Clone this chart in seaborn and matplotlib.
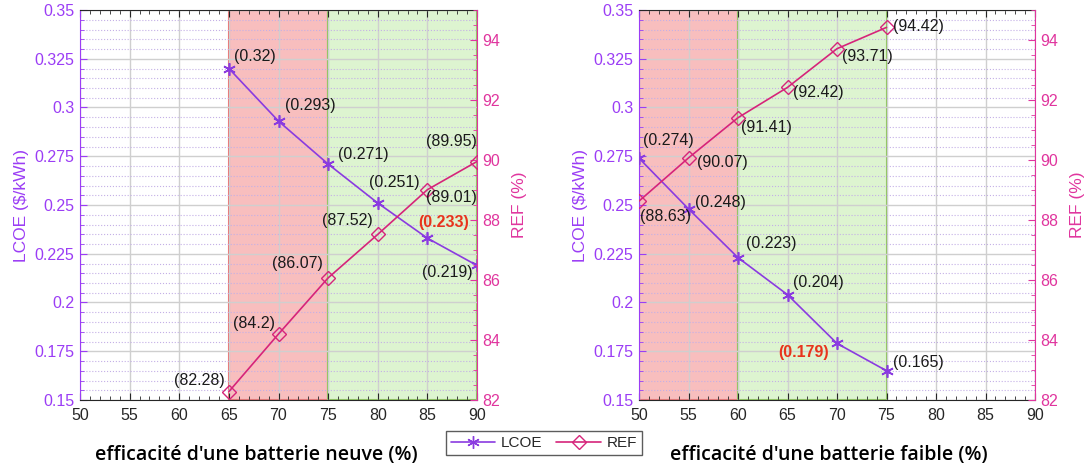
import pandas as pd
import matplotlib
matplotlib.use('Agg')
import matplotlib.pyplot as plt
import seaborn as sns
from matplotlib.ticker import MultipleLocator
from matplotlib.lines import Line2D

# Données
x_neuve = [65, 70, 75, 80, 85, 90]
lcoe_neuve = [0.32, 0.293, 0.271, 0.251, 0.233, 0.219]
ref_neuve = [82.28, 84.2, 86.07, 87.52, 89.01, 89.95]

x_faible = [50, 55, 60, 65, 70, 75]
lcoe_faible = [0.274, 0.248, 0.223, 0.204, 0.179, 0.165]
ref_faible = [88.63, 90.07, 91.41, 92.42, 93.71, 94.42]

# zones colorées (rouge, vert)
zones_neuve = [(65, 75), (75, 90)]
zones_faible = [(50, 60), (60, 75)]

# décalages des étiquettes (pixels) et alignement
off_lcoe_neuve = [(5, 12, 'left'), (6, 16, 'left'), (10, 10, 'left'), (-9, 21, 'left'), (-9, 16, 'left'), (-4, -7, 'right')]
off_ref_neuve = [(-4, 11, 'right'), (-4, 11, 'right'), (-5, 14, 'right'), (-5, 14, 'right'), (-1, -8, 'left'), (0, 20, 'right')]
off_lcoe_faible = [(4, 18, 'left'), (6, 6, 'left'), (8, 14, 'left'), (5, 12, 'left'), (-8, -9, 'right'), (6, 8, 'left')]
off_ref_faible = [(1, -15, 'left'), (8, -5, 'left'), (3, -10, 'left'), (5, -5, 'left'), (5, -8, 'left'), (6, 1, 'left')]
rouge_lcoe_neuve = 4
rouge_lcoe_faible = 4

C_LCOE = '#8A3BE0'
C_LCOE_AX = '#9B3DF5'
C_REF = '#D6247A'
C_REF_AX = '#E0359E'

sns.set_style('white')
plt.rcParams['font.family'] = ['Liberation Sans', 'DejaVu Sans']

fig = plt.figure(figsize=(10.89, 4.70), dpi=100)
W, H = 1089, 470


def panneau(rect, x, lcoe, ref, zones, off_l, off_r, rouge):
    ax = fig.add_axes(rect)
    df = pd.DataFrame({'x': x, 'LCOE': lcoe, 'REF': ref})

    ax.axvspan(zones[0][0], zones[0][1], facecolor='#F8BEBE', edgecolor='#EE6A6A', lw=1.5, zorder=0.5)
    ax.axvspan(zones[1][0], zones[1][1], facecolor='#DDF4D0', edgecolor='#86C44E', lw=1.5, zorder=0.5)

    sns.lineplot(data=df, x='x', y='LCOE', ax=ax, color=C_LCOE, marker=(6, 2, 0), markersize=9,
                 markeredgecolor=C_LCOE, markeredgewidth=1.2, lw=1.2, zorder=3)
    ax.set_xlim(50, 90)
    ax.set_ylim(0.15, 0.35)
    ax.xaxis.set_major_locator(MultipleLocator(5))
    ax.xaxis.set_minor_locator(MultipleLocator(1))
    ax.yaxis.set_major_locator(MultipleLocator(0.025))
    ax.yaxis.set_minor_locator(MultipleLocator(0.005))
    ax.set_yticklabels([f'{v:g}' for v in ax.get_yticks()])
    ax.grid(which='major', color='#CFCFCF', lw=1.0)
    ax.grid(which='minor', axis='y', color='#C4B0E6', lw=0.8, ls=':')
    ax.tick_params(axis='x', which='both', direction='in', top=True, bottom=True, labelsize=11.5,
                   colors='#262626', pad=6)
    ax.tick_params(axis='x', which='major', length=5)
    ax.tick_params(axis='x', which='minor', length=3)
    ax.tick_params(axis='y', which='both', direction='in', left=True, labelsize=11.5,
                   colors=C_LCOE_AX, pad=4)
    ax.tick_params(axis='y', which='major', length=5)
    ax.tick_params(axis='y', which='minor', length=3)
    ax.set_xlabel('')
    ax.set_ylabel('LCOE ($/kWh)', color=C_LCOE_AX, fontsize=12.5, labelpad=4)
    for s in ['top', 'bottom']:
        ax.spines[s].set_color('#262626')
    ax.spines['left'].set_color(C_LCOE_AX)
    ax.spines['right'].set_visible(False)

    ax2 = ax.twinx()
    sns.lineplot(data=df, x='x', y='REF', ax=ax2, color=C_REF, marker='D', markersize=7,
                 markerfacecolor='none', markeredgecolor=C_REF, markeredgewidth=1.0, lw=1.2, zorder=3)
    ax2.set_ylim(82, 95)
    ax2.yaxis.set_major_locator(MultipleLocator(2))
    ax2.yaxis.set_minor_locator(MultipleLocator(0.5))
    ax2.tick_params(axis='y', which='both', direction='in', right=True, labelsize=11.5,
                    colors=C_REF_AX, pad=4)
    ax2.tick_params(axis='y', which='major', length=5)
    ax2.tick_params(axis='y', which='minor', length=3)
    ax2.set_ylabel('REF (%)', color=C_REF_AX, fontsize=12.5, labelpad=8)
    ax2.spines['right'].set_color(C_REF_AX)
    for s in ['top', 'bottom', 'left']:
        ax2.spines[s].set_visible(False)

    for i, (xi, yi) in enumerate(zip(x, lcoe)):
        dx, dy, ha = off_l[i]
        red = i == rouge
        ax.annotate(f'({yi:g})', (xi, yi), xytext=(dx, dy), textcoords='offset pixels',
                    ha=ha, va='center', fontsize=11.5, zorder=5,
                    color='#E8341C' if red else '#1A1A1A', fontweight='bold' if red else 'normal')
    for i, (xi, yi) in enumerate(zip(x, ref)):
        dx, dy, ha = off_r[i]
        ax2.annotate(f'({yi:g})', (xi, yi), xytext=(dx, dy), textcoords='offset pixels',
                     ha=ha, va='center', fontsize=11.5, color='#1A1A1A', zorder=5)
    return ax, ax2


panneau([80 / W, 70 / H, 397 / W, 390 / H], x_neuve, lcoe_neuve, ref_neuve, zones_neuve,
        off_lcoe_neuve, off_ref_neuve, rouge_lcoe_neuve)
panneau([639 / W, 70 / H, 396 / W, 390 / H], x_faible, lcoe_faible, ref_faible, zones_faible,
        off_lcoe_faible, off_ref_faible, rouge_lcoe_faible)

fig.text(256 / W, 1 - 455 / H, "efficacité d'une batterie neuve (%)", ha='center', va='center',
         fontsize=14, fontweight='semibold', family=['Open Sans', 'DejaVu Sans'], color='black')
fig.text(829 / W, 1 - 455 / H, "efficacité d'une batterie faible (%)", ha='center', va='center',
         fontsize=14, fontweight='semibold', family=['Open Sans', 'DejaVu Sans'], color='black')

handles = [
    Line2D([], [], color=C_LCOE, marker=(6, 2, 0), markersize=9, lw=1.2),
    Line2D([], [], color=C_REF, marker='D', markersize=7, markerfacecolor='none', lw=1.2),
]
leg = fig.legend(handles, ['LCOE', 'REF'], loc='center', bbox_to_anchor=(544 / W, 1 - 443 / H),
                 ncol=2, fontsize=11, frameon=True, fancybox=False, handlelength=2.9,
                 columnspacing=0.9, borderpad=0.3, handletextpad=0.4)
leg.get_frame().set_edgecolor('#333333')
leg.get_frame().set_linewidth(1.0)

fig.savefig('out.png', dpi=100)
